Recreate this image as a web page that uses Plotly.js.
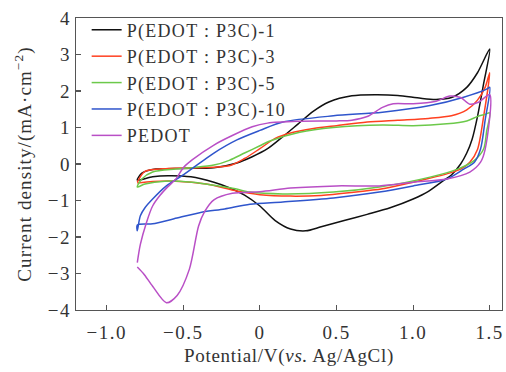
<!DOCTYPE html>
<html>
<head>
<meta charset="utf-8">
<script src="https://cdn.plot.ly/plotly-3.0.1.min.js"></script>
<style>
html,body{margin:0;padding:0;background:#fff}
#chart{width:506px;height:372px}
#chart .legendtext{letter-spacing:1.3px}
#chart .legend .scrollbox{clip-path:none !important}
#chart .xtick text,#chart .ytick text{letter-spacing:1.5px}
#chart .g-xtitle text{letter-spacing:0.7px}
#chart .g-ytitle text{letter-spacing:1.1px}
</style>
</head>
<body>
<div id="chart"></div>
<script>
// Series names
const seriesNames = ["P(EDOT : P3C)-1", "P(EDOT : P3C)-3", "P(EDOT : P3C)-5", "P(EDOT : P3C)-10", "PEDOT"];
const seriesColors = ["#111111", "#ff4020", "#6cc94a", "#2f55cc", "#b94fc6"];

// P(EDOT:P3C)-1 : anodic then cathodic sweep
const x1 = [-0.8,-0.77,-0.7,-0.5,-0.3,-0.15,-0.05,0.05,0.15,0.25,0.35,0.45,0.6,0.75,0.9,1.05,1.15,1.25,1.35,1.42,1.5,
            1.46,1.42,1.385,1.35,1.31,1.25,1.2,1.1,1.0,0.85,0.7,0.55,0.4,0.3,0.2,0.1,0.0,-0.1,-0.2,-0.3,-0.45,-0.6,-0.7,-0.8];
const y1 = [-0.44,-0.25,-0.15,-0.12,-0.1,0.03,0.2,0.42,0.75,1.1,1.45,1.7,1.87,1.9,1.88,1.8,1.77,1.82,2.1,2.5,3.15,
            2.2,1.3,0.68,0.3,0.0,-0.3,-0.45,-0.75,-0.96,-1.2,-1.38,-1.55,-1.72,-1.83,-1.78,-1.55,-1.15,-0.85,-0.65,-0.5,-0.35,-0.32,-0.35,-0.44];

// P(EDOT:P3C)-3
const x3 = [-0.8,-0.75,-0.6,-0.4,-0.2,-0.1,0.0,0.1,0.2,0.35,0.5,0.7,0.9,1.1,1.25,1.35,1.42,1.47,1.5,
            1.46,1.42,1.37,1.31,1.22,1.1,1.0,0.8,0.6,0.4,0.2,0.0,-0.15,-0.35,-0.55,-0.7,-0.8];
const y3 = [-0.5,-0.2,-0.12,-0.1,-0.05,0.15,0.42,0.7,0.85,0.97,1.05,1.15,1.2,1.25,1.32,1.48,1.75,2.1,2.5,
            1.3,0.4,0.05,-0.14,-0.27,-0.4,-0.5,-0.68,-0.78,-0.86,-0.88,-0.84,-0.74,-0.55,-0.47,-0.48,-0.52];

// P(EDOT:P3C)-5
const x5 = [-0.8,-0.77,-0.7,-0.55,-0.44,-0.3,-0.2,-0.1,0.0,0.065,0.26,0.48,0.8,1.0,1.22,1.35,1.42,1.47,1.5,
            1.48,1.46,1.4,1.29,1.11,0.78,0.48,0.15,-0.065,-0.16,-0.3,-0.44,-0.62,-0.75,-0.8];
const y5 = [-0.63,-0.41,-0.22,-0.14,-0.1,-0.03,0.1,0.3,0.5,0.63,0.87,1.0,1.07,1.05,1.1,1.18,1.3,1.36,1.4,
            0.9,0.41,0.1,-0.14,-0.36,-0.63,-0.77,-0.82,-0.77,-0.68,-0.58,-0.5,-0.47,-0.55,-0.63];

// P(EDOT:P3C)-10
const x10 = [-0.8,-0.78,-0.75,-0.7,-0.61,-0.5,-0.44,-0.3,-0.15,0.0,0.15,0.48,0.8,1.11,1.33,1.48,1.5,
             1.47,1.44,1.4,1.33,1.22,1.0,0.78,0.48,0.15,-0.065,-0.23,-0.38,-0.56,-0.7,-0.8,-0.8];
const y10 = [-1.83,-1.42,-1.2,-0.96,-0.6,-0.3,-0.12,0.3,0.66,0.92,1.15,1.32,1.42,1.6,1.83,2.05,2.1,
             1.2,0.41,0.05,-0.14,-0.41,-0.6,-0.77,-0.93,-1.04,-1.1,-1.23,-1.32,-1.5,-1.64,-1.67,-1.83];

// PEDOT
const xP = [-0.8,-0.78,-0.74,-0.7,-0.65,-0.6,-0.55,-0.5,-0.44,-0.3,-0.18,-0.05,0.05,0.25,0.5,0.6,0.7,0.8,0.87,1.0,1.15,1.24,1.31,1.37,1.43,1.5,
            1.47,1.44,1.37,1.22,1.0,0.78,0.5,0.2,0.0,-0.18,-0.3,-0.36,-0.4,-0.46,-0.54,-0.61,-0.7,-0.76,-0.8];
const yP = [-2.7,-2.2,-1.6,-1.15,-0.85,-0.62,-0.42,-0.1,0.12,0.52,0.78,1.02,1.12,1.17,1.18,1.2,1.3,1.55,1.65,1.65,1.72,1.86,1.82,1.64,1.7,1.9,
            0.4,0.05,-0.22,-0.41,-0.5,-0.6,-0.6,-0.66,-0.76,-0.8,-0.98,-1.3,-1.7,-2.88,-3.6,-3.8,-3.35,-3.0,-2.82];

const xTickVals = [-1.0,-0.5,0,0.5,1.0,1.5];
const xTickText = ["\u22121.0","\u22120.5","0","0.5","1.0","1.5"];
const yTickVals = [-4,-3,-2,-1,0,1,2,3,4];
const yTickText = ["\u22124","\u22123","\u22122","\u22121","0","1","2","3","4"];

const xs = [x1,x3,x5,x10,xP];
const ys = [y1,y3,y5,y10,yP];
const traces = seriesNames.map((n,i)=>({
  x: xs[i], y: ys[i], name: n, type: 'scatter', mode: 'lines',
  line: {color: seriesColors[i], width: 1.5, shape: 'spline', smoothing: 0.8}
}));

const fam = '"Liberation Serif", "Times New Roman", serif';
const font = {family: fam, size: 19, color: '#333'};
const legendFont = {family: fam, size: 18, color: '#333'};
const axisCommon = {
  showline: true, mirror: true, linecolor: '#555', linewidth: 1.3,
  ticks: 'inside', ticklen: 5, tickcolor: '#555', tickwidth: 1.2,
  showgrid: false, zeroline: false, tickfont: font
};
const layout = {
  width: 506, height: 372,
  margin: {l: 76, r: 4, t: 18, b: 62},
  paper_bgcolor: '#fff', plot_bgcolor: '#fff',
  font: font,
  showlegend: true,
  legend: {x: 0.025, y: 1.022, xanchor: 'left', yanchor: 'top', bgcolor: 'rgba(0,0,0,0)', font: legendFont, tracegroupgap: 0},
  xaxis: Object.assign({}, axisCommon, {range: [-1.2, 1.58], tickvals: xTickVals, ticktext: xTickText,
    ticklabelstandoff: 5,
    title: {text: 'Potential/V(<i>vs.</i> Ag/AgCl)', font: font, standoff: 6}}),
  yaxis: Object.assign({}, axisCommon, {range: [-4, 4], tickvals: yTickVals, ticktext: yTickText,
    title: {text: 'Current density/(mA\u00b7cm<sup>\u22122</sup>)', font: font, standoff: 14}})
};
Plotly.newPlot('chart', traces, layout, {staticPlot: true, displayModeBar: false});
</script>
</body>
</html>
